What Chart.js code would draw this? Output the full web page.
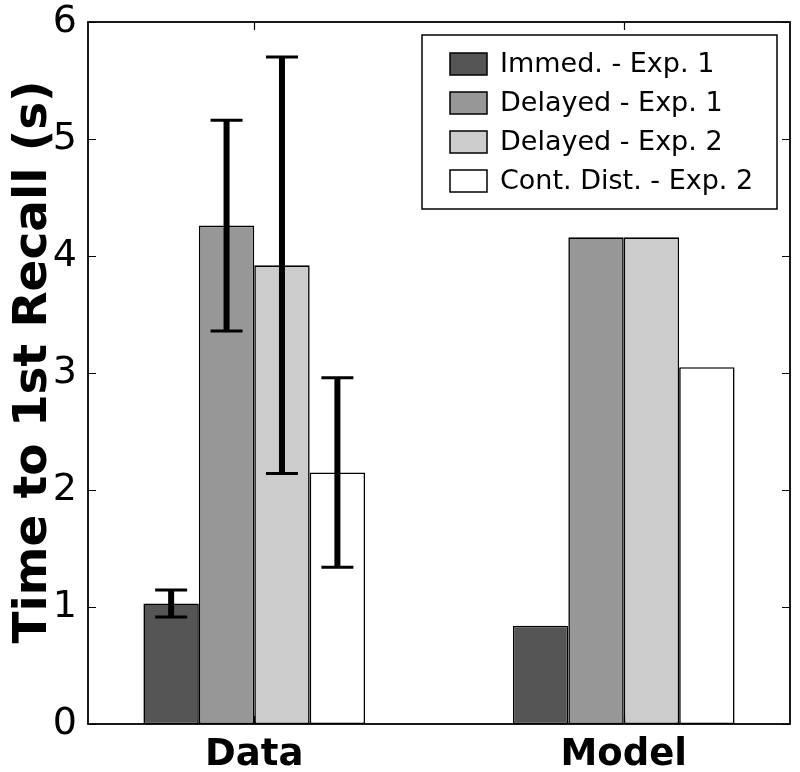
<!DOCTYPE html>
<html>
<head>
<meta charset="utf-8">
<script src="https://cdn.jsdelivr.net/npm/chart.js@4/dist/chart.umd.min.js"></script>
<style>
  html, body { margin: 0; padding: 0; background: #ffffff; }
  #wrap { width: 800px; height: 772px; }
</style>
</head>
<body>
<div id="wrap"><canvas id="c" width="800" height="772"></canvas></div>
<script>
// ---- data ----
const categories = ["Data", "Model"];
const seriesLabels = ["Immed. - Exp. 1", "Delayed - Exp. 1", "Delayed - Exp. 2", "Cont. Dist. - Exp. 2"];
const immedExp1 = [1.03, 0.84];
const delayedExp1 = [4.26, 4.16];
const delayedExp2 = [3.92, 4.16];
const contDistExp2 = [2.15, 3.05];
const immedExp1Err = [0.115, null];
const delayedExp1Err = [0.90, null];
const delayedExp2Err = [1.78, null];
const contDistExp2Err = [0.81, null];
const yTicks = [0, 1, 2, 3, 4, 5, 6];
const yTitle = "Time to 1st Recall (s)";

// ---- styling ----
const FONT = "'DejaVu Sans', 'Liberation Sans', sans-serif";
const fills = ["#555555", "#979797", "#cccccc", "#ffffff"];
const seriesValues = [immedExp1, delayedExp1, delayedExp2, contDistExp2];
const seriesErrors = [immedExp1Err, delayedExp1Err, delayedExp2Err, contDistExp2Err];

const datasets = seriesValues.map((vals, s) => ({
  label: seriesLabels[s],
  data: categories.map((c, i) => ({ x: i, y: vals[i] })),
  errors: seriesErrors[s],
  backgroundColor: fills[s],
  borderColor: "#000000",
  borderWidth: 1.6,
  borderSkipped: false,
  categoryPercentage: 0.6,
  barPercentage: 1.0
}));

// error bars
const errorBarPlugin = {
  id: "errorBars",
  afterDatasetsDraw(chart) {
    const ctx = chart.ctx;
    const yScale = chart.scales.y;
    ctx.save();
    ctx.strokeStyle = "#000000";
    chart.data.datasets.forEach((ds, di) => {
      const meta = chart.getDatasetMeta(di);
      (ds.errors || []).forEach((err, i) => {
        if (err == null) return;
        const el = meta.data[i];
        const v = ds.data[i].y;
        const yTop = yScale.getPixelForValue(v + err);
        const yBot = yScale.getPixelForValue(v - err);
        const x = el.x;
        ctx.lineWidth = 6;
        ctx.beginPath();
        ctx.moveTo(x, yTop);
        ctx.lineTo(x, yBot);
        ctx.stroke();
        ctx.lineWidth = 3;
        ctx.beginPath();
        ctx.moveTo(x - 16, yTop); ctx.lineTo(x + 16, yTop);
        ctx.moveTo(x - 16, yBot); ctx.lineTo(x + 16, yBot);
        ctx.stroke();
      });
    });
    ctx.restore();
  }
};

// frame with inward ticks on all four sides, plus the rotated y title
const framePlugin = {
  id: "frame",
  afterDatasetsDraw(chart) {
    const { ctx, chartArea: a, scales } = chart;
    ctx.save();
    ctx.strokeStyle = "#000000";
    ctx.lineWidth = 1.2;
    const L = 8;
    ctx.beginPath();
    scales.y.ticks.forEach(t => {
      const y = Math.round(scales.y.getPixelForValue(t.value)) + 0.5;
      ctx.moveTo(a.left, y); ctx.lineTo(a.left + L, y);
      ctx.moveTo(a.right, y); ctx.lineTo(a.right - L, y);
    });
    scales.x.ticks.forEach(t => {
      const x = Math.round(scales.x.getPixelForValue(t.value)) + 0.5;
      ctx.moveTo(x, a.bottom); ctx.lineTo(x, a.bottom - L);
      ctx.moveTo(x, a.top); ctx.lineTo(x, a.top + L);
    });
    ctx.stroke();
    ctx.lineWidth = 1.8;
    ctx.strokeRect(a.left, a.top, a.right - a.left, a.bottom - a.top);

    // y-axis title
    ctx.translate(33.5, (a.top + a.bottom) / 2 - 11);
    ctx.rotate(-Math.PI / 2);
    ctx.fillStyle = "#000000";
    ctx.font = "bold 47px " + FONT;
    ctx.textAlign = "center";
    ctx.textBaseline = "middle";
    ctx.fillText(yTitle, 0, 0);
    ctx.restore();
  }
};

// legend inside the plot, upper right
const legendPlugin = {
  id: "insideLegend",
  afterDraw(chart) {
    const { ctx, chartArea: a } = chart;
    const w = 355, h = 174;
    const x0 = a.right - 13 - w, y0 = a.top + 13;
    ctx.save();
    ctx.fillStyle = "#ffffff";
    ctx.fillRect(x0, y0, w, h);
    ctx.strokeStyle = "#000000";
    ctx.lineWidth = 1.5;
    ctx.strokeRect(x0, y0, w, h);
    ctx.font = "27px " + FONT;
    ctx.textBaseline = "middle";
    ctx.textAlign = "left";
    chart.data.datasets.forEach((ds, i) => {
      const cy = y0 + 29 + i * 39;
      ctx.fillStyle = ds.backgroundColor;
      ctx.fillRect(x0 + 28, cy - 11, 37, 22);
      ctx.lineWidth = 1.5;
      ctx.strokeRect(x0 + 28, cy - 11, 37, 22);
      ctx.fillStyle = "#000000";
      ctx.fillText(ds.label, x0 + 78, cy + 1);
    });
    ctx.restore();
  }
};

new Chart(document.getElementById("c"), {
  type: "bar",
  data: { datasets },
  options: {
    responsive: false,
    animation: false,
    events: [],
    layout: { padding: { top: 22, right: 10, left: 0, bottom: 0 } },
    plugins: { legend: { display: false }, tooltip: { enabled: false } },
    scales: {
      x: {
        type: "linear",
        min: -0.45,
        max: 1.45,
        offset: false,
        grid: { display: false },
        border: { display: false },
        afterBuildTicks(scale) { scale.ticks = categories.map((c, i) => ({ value: i })); },
        afterFit(scale) { scale.height = 48; },
        ticks: {
          padding: 1,
          color: "#000000",
          font: { family: FONT, size: 37, weight: "bold" },
          callback: (v) => categories[v]
        }
      },
      y: {
        min: 0,
        max: 6,
        grid: { display: false },
        border: { display: false },
        afterBuildTicks(scale) { scale.ticks = yTicks.map(v => ({ value: v })); },
        afterFit(scale) { scale.width = 88; },
        ticks: {
          padding: 3,
          color: "#000000",
          font: { family: FONT, size: 38, lineHeight: 1.0 }
        },
        title: { display: false }
      }
    }
  },
  plugins: [errorBarPlugin, framePlugin, legendPlugin]
});
</script>
</body>
</html>
